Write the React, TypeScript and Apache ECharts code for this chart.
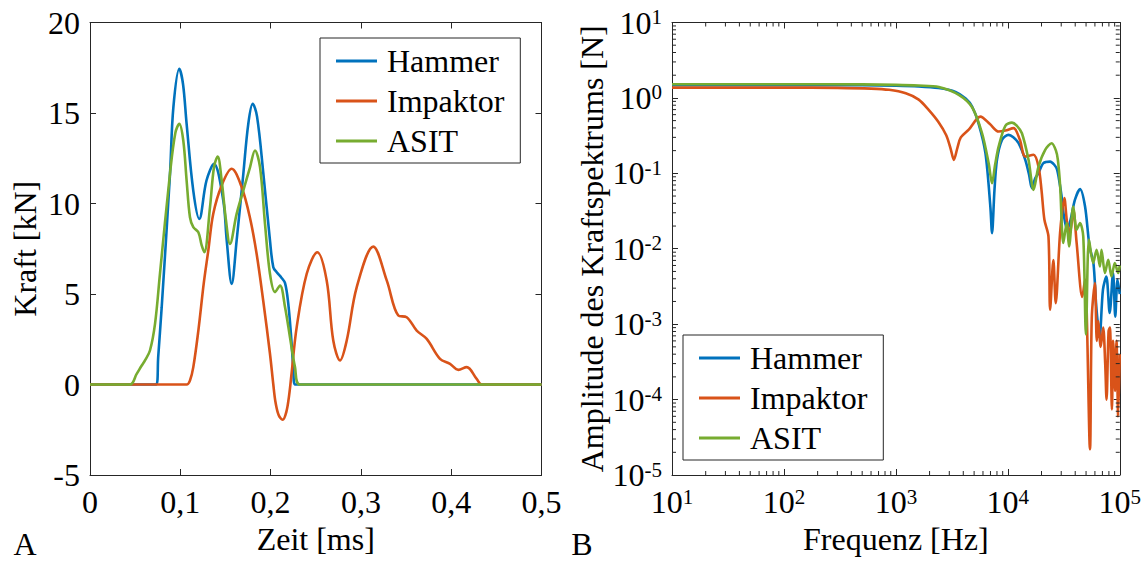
import React, { useEffect, useRef } from "react";
import * as echarts from "echarts";

// Zeitverlauf der Kraft [ms, kN]
const hammerForce: [number, number][] = [
  [0, 0], [0.0735, 0], [0.0755, 1.5], [0.0794, 4.27], [0.0886, 11.64], [0.0923, 15.3],
  [0.0989, 17.44], [0.103, 16.6], [0.107, 14.4], [0.1144, 10.7], [0.121, 9.15], [0.129, 11.27],
  [0.1373, 12.19], [0.1476, 10.17], [0.1514, 7.96], [0.1569, 5.56], [0.1624, 7.96],
  [0.1698, 11.64], [0.1753, 14.4], [0.1802, 15.51], [0.185, 14.8], [0.192, 11.64],
  [0.1993, 7.96], [0.203, 6.48], [0.2068, 6.2], [0.212, 5.9], [0.216, 5.6], [0.2195, 4.5],
  [0.2225, 2.8], [0.225, 1.0], [0.227, 0], [0.5, 0],
];

const impaktorForce: [number, number][] = [
  [0, 0], [0.1071, 0], [0.1107, 0.22], [0.1144, 0.96], [0.12, 2.98], [0.126, 5.6], [0.131, 7.4],
  [0.1365, 9.43], [0.1458, 11.0], [0.1569, 11.92], [0.168, 10.9], [0.1772, 9.2], [0.1846, 7.2],
  [0.1919, 4.6], [0.1993, 1.7], [0.203, 0.0], [0.2055, -1.0], [0.209, -1.7], [0.2134, -1.95],
  [0.2175, -1.5], [0.2205, -0.6], [0.223, 0.5], [0.2289, 3.17], [0.24, 6.12], [0.2517, 7.31],
  [0.2621, 5.75], [0.2694, 2.43], [0.2769, 1.33], [0.2843, 2.43], [0.2954, 5.38],
  [0.3137, 7.62], [0.3286, 5.75], [0.3414, 3.81], [0.3507, 3.72], [0.3618, 2.98],
  [0.3729, 2.52], [0.3876, 1.42], [0.3987, 1.14], [0.4079, 0.81], [0.4172, 0.96],
  [0.4282, 0.31], [0.4338, 0], [0.5, 0],
];

const asitForce: [number, number][] = [
  [0, 0], [0.0443, 0], [0.0517, 0.59], [0.0573, 1.05], [0.0609, 1.33], [0.0664, 1.88],
  [0.072, 3.35], [0.0775, 6.13], [0.0886, 11.66], [0.0945, 13.9], [0.0989, 14.4],
  [0.1033, 13.48], [0.107, 11.27], [0.1107, 9.24], [0.1144, 8.69], [0.12, 8.41],
  [0.1237, 7.68], [0.1266, 7.31], [0.1329, 9.8], [0.1373, 12.0], [0.1414, 12.6],
  [0.1458, 11.27], [0.1506, 9.06], [0.155, 7.77], [0.1624, 9.43], [0.1698, 10.72],
  [0.1772, 12.0], [0.1827, 12.93], [0.1883, 12.0], [0.1938, 8.88], [0.1993, 6.12],
  [0.2049, 5.1], [0.2104, 5.47], [0.216, 4.27], [0.2215, 2.6], [0.227, 0.96], [0.2326, 0],
  [0.5, 0],
];

// Amplitudenspektrum [Hz, N]
const hammerSpectrum: [number, number][] = [
  [10, 1.48], [100, 1.48], [500, 1.47], [1000, 1.45], [1585, 1.42], [2400, 1.35], [3412, 1.2],
  [4200, 0.98], [4797, 0.77], [5500, 0.45], [6310, 0.185], [6982, 0.0363], [7228, 0.0161],
  [7600, 0.06], [8000, 0.151], [8872, 0.278], [10162, 0.324], [11200, 0.3], [12474, 0.251],
  [14322, 0.151], [15500, 0.095], [16406, 0.0637], [17500, 0.085], [18793, 0.1007],
  [20797, 0.1365], [23878, 0.143], [26000, 0.13], [27542, 0.112], [29000, 0.075],
  [30200, 0.05], [31623, 0.028], [33884, 0.0178], [36308, 0.024], [39811, 0.0447],
  [44157, 0.0618], [48978, 0.0363], [53703, 0.0107], [58210, 0.00646], [61660, 0.00174],
  [66069, 0.00069], [70795, 0.00288], [75858, 0.00427], [81283, 0.00141], [87096, 0.00479],
  [91201, 0.00126], [95499, 0.00389], [100000, 0.0025],
];

const impaktorSpectrum: [number, number][] = [
  [10, 1.37], [100, 1.37], [300, 1.36], [600, 1.33], [871, 1.28], [1225, 1.15], [1600, 0.95],
  [1972, 0.69], [2400, 0.48], [2818, 0.32], [3090, 0.21], [3296, 0.151], [3550, 0.22],
  [3802, 0.3], [4477, 0.38], [5689, 0.565], [6918, 0.45], [8279, 0.358], [9500, 0.37],
  [11272, 0.397], [12800, 0.28], [14322, 0.167], [16982, 0.176], [18793, 0.123],
  [20000, 0.06], [21232, 0.0242], [23067, 0.0146], [23878, 0.00156], [25527, 0.0071],
  [26792, 0.0019], [29309, 0.0163], [31989, 0.047], [33884, 0.022], [35975, 0.0162],
  [38459, 0.033], [41210, 0.0119], [46238, 0.0023], [48978, 0.0039], [54200, 2.2e-5],
  [56234, 0.0012], [59979, 0.0035], [62373, 0.0006], [64269, 0.0011], [67608, 0.0005],
  [71121, 0.0009], [74131, 0.0003], [76208, 0.0001], [79433, 0.0008], [81658, 0.0009],
  [85114, 7.4e-5], [87297, 0.0006], [90782, 0.00013], [93541, 0.0006], [96828, 6e-5],
  [100000, 0.0004],
];

const asitSpectrum: [number, number][] = [
  [10, 1.52], [100, 1.52], [500, 1.51], [1000, 1.49], [1585, 1.46], [2421, 1.4], [3648, 1.1],
  [4797, 0.753], [5888, 0.34], [6745, 0.136], [7228, 0.074], [7700, 0.13], [8279, 0.226],
  [9506, 0.426], [10889, 0.471], [12000, 0.43], [13366, 0.34], [15311, 0.151],
  [16982, 0.0604], [18793, 0.123], [21577, 0.205], [24660, 0.251], [26915, 0.2],
  [28000, 0.151], [29309, 0.07], [31333, 0.0119], [33574, 0.0219], [35237, 0.0107],
  [38459, 0.0363], [41210, 0.0179], [44157, 0.0219], [47206, 0.0146], [49888, 0.00073],
  [53088, 0.0132], [57943, 0.00646], [62087, 0.0097], [66527, 0.00583], [68707, 0.0097],
  [73790, 0.00476], [78886, 0.00714], [84333, 0.0043], [90365, 0.00646], [96828, 0.00476],
  [100000, 0.006],
];

const seriesNames = ["Hammer", "Impaktor", "ASIT"];
const seriesColors = ["#0072BD", "#D95319", "#77AC30"];

const FONT = "Liberation Serif";
const FS = 32;
const AXIS = "#262626";

// minor tick values of a log axis: 2..9 x 10^k
function minorLogTicks(lo: number, hi: number): number[] {
  const out: number[] = [];
  for (let e = lo; e < hi; e++) {
    for (let m = 2; m <= 9; m++) out.push(m * Math.pow(10, e));
  }
  return out;
}

export default function App() {
  const ref = useRef<HTMLDivElement>(null);

  useEffect(() => {
    if (!ref.current) return;
    const chart = echarts.init(ref.current, undefined, { renderer: "svg" });

    const textStyle = { fontFamily: FONT, fontSize: FS, color: "#000" };
    const lineStyle = { color: AXIS, width: 1 };

    const logLabel = (v: number) => {
      const e = Math.round(Math.log10(v));
      return `{b|10}{s|${e}}`;
    };
    const logRich = {
      b: { fontFamily: FONT, fontSize: FS, color: "#000" },
      s: { fontFamily: FONT, fontSize: 21, color: "#000", verticalAlign: "top" as const },
    };

    const boxAxis = (gridIndex: number, extra: any) => ({
      gridIndex,
      axisLine: { show: true, onZero: false, lineStyle },
      axisTick: { show: true, inside: true, length: 6, lineStyle },
      axisLabel: { show: false },
      splitLine: { show: false },
      ...extra,
    });

    const legendBase = {
      orient: "vertical" as const,
      icon: "rect",
      itemWidth: 41,
      itemHeight: 3,
      itemGap: 8,
      padding: [7, 16, 6, 16],
      borderColor: AXIS,
      borderWidth: 1,
      backgroundColor: "#fff",
      selectedMode: false,
      data: seriesNames,
      textStyle: { ...textStyle, padding: [0, 0, 0, 5] },
    };

    const minorX = minorLogTicks(1, 5).map((v) => [v, 1, 0]);
    const minorY = minorLogTicks(-5, 1).map((v) => [10, v, 1]);

    const option: any = {
      animation: false,
      backgroundColor: "#fff",
      textStyle: { fontFamily: FONT, fontSize: FS, color: "#000" },
      grid: [
        { left: 90, top: 22.5, width: 451.5, height: 452.5 },
        { left: 672, top: 22.5, width: 450, height: 452.5 },
      ],
      legend: [
        { ...legendBase, left: 320, top: 38 },
        { ...legendBase, left: 683, top: 335 },
      ],
      xAxis: [
        boxAxis(0, {
          type: "value",
          min: 0,
          max: 0.5,
          interval: 0.1,
          position: "bottom",
          axisLabel: {
            show: true,
            ...textStyle,
            margin: 11,
            formatter: (v: number) => String(Math.round(v * 10) / 10).replace(".", ","),
          },
          name: "Zeit [ms]",
          nameLocation: "middle",
          nameGap: 46,
          nameTextStyle: textStyle,
        }),
        boxAxis(0, { type: "value", min: 0, max: 0.5, interval: 0.1, position: "top" }),
        boxAxis(1, {
          type: "log",
          logBase: 10,
          min: 10,
          max: 100000,
          splitNumber: 4,
          position: "bottom",
          axisLabel: { show: true, ...textStyle, margin: 11, formatter: logLabel, rich: logRich },
          name: "Frequenz [Hz]",
          nameLocation: "middle",
          nameGap: 46,
          nameTextStyle: textStyle,
        }),
        boxAxis(1, { type: "log", logBase: 10, min: 10, max: 100000, splitNumber: 4, position: "top" }),
      ],
      yAxis: [
        boxAxis(0, {
          type: "value",
          min: -5,
          max: 20,
          interval: 5,
          position: "left",
          axisLabel: { show: true, ...textStyle, margin: 10 },
          name: "Kraft [kN]",
          nameLocation: "middle",
          nameGap: 49,
          nameTextStyle: textStyle,
        }),
        boxAxis(0, { type: "value", min: -5, max: 20, interval: 5, position: "right" }),
        boxAxis(1, {
          type: "log",
          logBase: 10,
          min: 1e-5,
          max: 10,
          splitNumber: 6,
          position: "left",
          axisLabel: { show: true, ...textStyle, margin: 10, formatter: logLabel, rich: logRich },
          name: "Amplitude des Kraftspektrums [N]",
          nameLocation: "middle",
          nameGap: 64,
          nameTextStyle: textStyle,
        }),
        boxAxis(1, { type: "log", logBase: 10, min: 1e-5, max: 10, splitNumber: 6, position: "right" }),
      ],
      series: [
        ...[hammerForce, impaktorForce, asitForce].map((d, i) => ({
          type: "line",
          name: seriesNames[i],
          xAxisIndex: 0,
          yAxisIndex: 0,
          data: d,
          symbol: "none",
          smooth: 0.35,
          lineStyle: { width: 2.6, color: seriesColors[i] },
          itemStyle: { color: seriesColors[i] },
          z: 3 + (i === 1 ? 0 : i),
        })),
        ...[hammerSpectrum, impaktorSpectrum, asitSpectrum].map((d, i) => ({
          type: "line",
          name: seriesNames[i],
          xAxisIndex: 2,
          yAxisIndex: 2,
          data: d,
          symbol: "none",
          smooth: 0.3,
          lineStyle: { width: 2.6, color: seriesColors[i] },
          itemStyle: { color: seriesColors[i] },
          z: 3 + i,
        })),
        {
          type: "custom",
          name: "minorTicks",
          xAxisIndex: 2,
          yAxisIndex: 2,
          silent: true,
          clip: false,
          z: 10,
          data: [...minorX, ...minorY],
          renderItem: (_p: any, api: any) => {
            const v0 = api.value(0);
            const v1 = api.value(1);
            const kind = api.value(2);
            const style = { stroke: AXIS, lineWidth: 1 };
            if (kind === 0) {
              const a = api.coord([v0, 1e-5]);
              const b = api.coord([v0, 10]);
              return {
                type: "group",
                children: [
                  { type: "line", shape: { x1: a[0], y1: a[1], x2: a[0], y2: a[1] - 4 }, style },
                  { type: "line", shape: { x1: b[0], y1: b[1], x2: b[0], y2: b[1] + 4 }, style },
                ],
              };
            }
            const a = api.coord([10, v1]);
            const b = api.coord([100000, v1]);
            return {
              type: "group",
              children: [
                { type: "line", shape: { x1: a[0], y1: a[1], x2: a[0] + 4, y2: a[1] }, style },
                { type: "line", shape: { x1: b[0], y1: b[1], x2: b[0] - 4, y2: b[1] }, style },
              ],
            };
          },
        },
      ],
      graphic: [
        {
          type: "text",
          x: 25,
          y: 544,
          style: {
            text: "A",
            fontFamily: FONT,
            fontSize: FS,
            fill: "#000",
            align: "center",
            verticalAlign: "middle",
          },
        },
        {
          type: "text",
          x: 582,
          y: 544,
          style: {
            text: "B",
            fontFamily: FONT,
            fontSize: FS,
            fill: "#000",
            align: "center",
            verticalAlign: "middle",
          },
        },
      ],
    };

    chart.setOption(option);
    return () => chart.dispose();
  }, []);

  return (
    <div
      ref={ref}
      style={{ position: "fixed", left: 0, top: 0, width: 1144, height: 563, background: "#fff" }}
    />
  );
}
